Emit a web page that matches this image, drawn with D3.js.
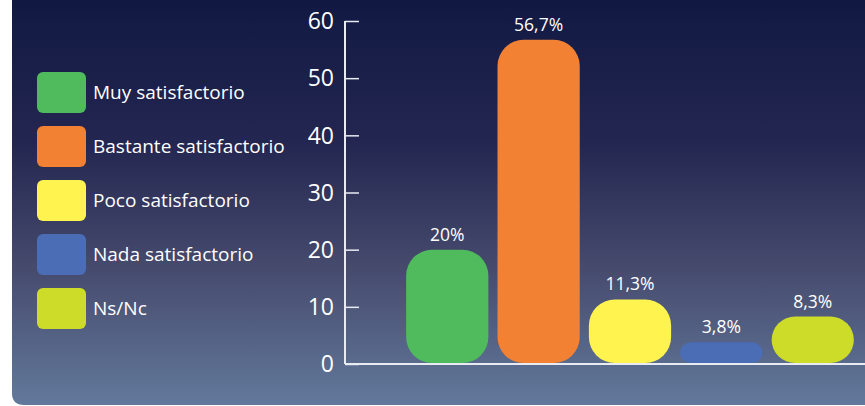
<!DOCTYPE html>
<html><head><meta charset="utf-8">
<script src="https://cdn.jsdelivr.net/npm/d3@7"></script>
<style>html,body{margin:0;padding:0;background:#fff;}svg{display:block;}</style>
</head><body>
<svg id="chart" width="865" height="406"></svg>
<script>
const categories = ["Muy satisfactorio","Bastante satisfactorio","Poco satisfactorio","Nada satisfactorio","Ns/Nc"];
const values = [20, 56.7, 11.3, 3.8, 8.3];
const valueLabels = ["20%","56,7%","11,3%","3,8%","8,3%"];
const colors = ["#4fbb5d","#f28133","#fff44f","#4a6db5","#cddc29"];
const yTicks = [0,10,20,30,40,50,60];

const svg = d3.select("#chart");
const W = 865, H = 406;
const font = "'Open Sans', sans-serif";

const defs = svg.append("defs");
const grad = defs.append("linearGradient").attr("id","bg").attr("x1",0).attr("y1",0).attr("x2",0).attr("y2",1);
grad.append("stop").attr("offset","0%").attr("stop-color","#111943");
grad.append("stop").attr("offset","35%").attr("stop-color","#232650");
grad.append("stop").attr("offset","65%").attr("stop-color","#45496c");
grad.append("stop").attr("offset","100%").attr("stop-color","#62799b");

// panel with rounded bottom-left corner
const px = 12, pb = 405, r = 12;
svg.append("path")
  .attr("d", `M${px},0 H${W} V${pb} H${px + r} Q${px},${pb} ${px},${pb - r} Z`)
  .attr("fill","url(#bg)");

const x0 = 345, yTop = 21, yBot = 364;
const y = d3.scaleLinear().domain([0,60]).range([yBot, yTop]);
const x = d3.scaleBand().domain(categories).range([397, 863]).paddingInner(0.1).paddingOuter(0.1);

// axes
const yAxis = svg.append("g").attr("transform",`translate(${x0},0)`)
  .call(d3.axisRight(y).tickValues(yTicks).tickSize(14).tickFormat(""));
yAxis.select(".domain").remove();
yAxis.selectAll(".tick line").attr("stroke","#e8ebf2").attr("stroke-width",1.5);
svg.append("line").attr("x1",x0).attr("x2",x0).attr("y1",yTop).attr("y2",yBot)
  .attr("stroke","#e8ebf2").attr("stroke-width",2);
svg.append("line").attr("x1",x0).attr("x2",W).attr("y1",yBot).attr("y2",yBot)
  .attr("stroke","#e8ebf2").attr("stroke-width",2);

svg.append("g").selectAll("text").data(yTicks).join("text")
  .attr("x", 334).attr("y", d => y(d)).attr("dy","0.36em")
  .attr("text-anchor","end").attr("fill","#fff")
  .attr("font-family",font).attr("font-size",23).text(d => d);

// bars
const bars = svg.append("g");
categories.forEach((c,i) => {
  const bx = x(c), bw = x.bandwidth();
  const top = y(values[i]), h = yBot - top;
  const rr = Math.min(26, h/2);
  bars.append("rect").attr("x",bx).attr("y",top).attr("width",bw).attr("height",h - 1)
    .attr("rx",rr).attr("ry",rr).attr("fill",colors[i]);
  bars.append("text").attr("x",bx + bw/2).attr("y",top - 9)
    .attr("text-anchor","middle").attr("fill","#fff")
    .attr("font-family",font).attr("font-size",17.5).text(valueLabels[i]);
});

// legend
const leg = svg.append("g");
categories.forEach((c,i) => {
  const ly = 72 + i*54;
  leg.append("rect").attr("x",37).attr("y",ly).attr("width",49).attr("height",41)
    .attr("rx",6).attr("fill",colors[i]);
  leg.append("text").attr("x",93).attr("y",ly + 20.5).attr("dy","0.36em")
    .attr("fill","#fff").attr("font-family",font).attr("font-size",19).text(c);
});
</script>
</body></html>
